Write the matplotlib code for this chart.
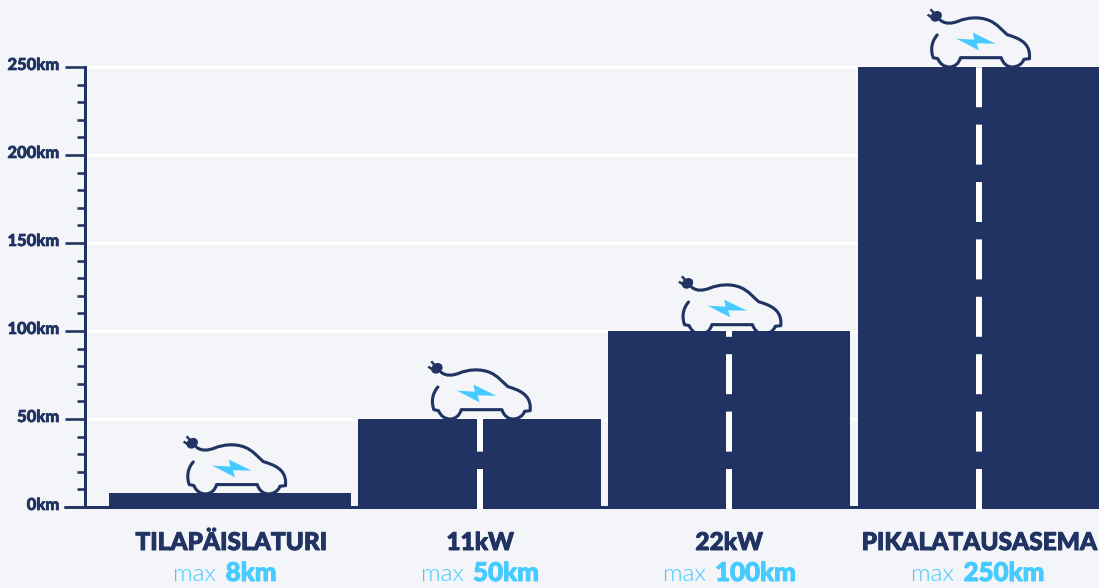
import matplotlib
matplotlib.use("Agg")
import matplotlib.pyplot as plt
import matplotlib.patheffects as pe
from matplotlib.path import Path
from matplotlib.patches import PathPatch, Polygon, Ellipse
from matplotlib.transforms import Affine2D, ScaledTranslation

categories = ["TILAPÄISLATURI", "11kW", "22kW", "PIKALATAUSASEMA"]
values = [8, 50, 100, 250]
sub_values = ["8km", "50km", "100km", "250km"]
major_ticks = [0, 50, 100, 150, 200, 250]
minor_ticks = [10, 20, 30, 40, 60, 70, 80, 90, 110, 120, 130, 140, 160, 170, 180, 190, 210, 220, 230, 240]
tick_labels = ["0km", "50km", "100km", "150km", "200km", "250km"]

NAVY = "#203362"
BLUE = "#45CBFF"
BG = "#F3F5F8"
W, H = 1099, 588
px = 72 / 100
plt.rcParams["lines.scale_dashes"] = False
FONT = "Lato"

fig = plt.figure(figsize=(W / 100, H / 100), dpi=100, facecolor=BG)
ax = fig.add_axes([84.5 / W, (H - 507) / H, (W - 84.5) / W, 440 / H])
ax.set_facecolor(BG)
ax.set_ylim(0, 250)
ax.set_xlim(-0.5825, 3.4813)

for s in ["top", "right"]:
    ax.spines[s].set_visible(False)
for s in ["left", "bottom"]:
    ax.spines[s].set_color(NAVY)
    ax.spines[s].set_linewidth(3 * px)

ax.set_xticks([])
ax.set_yticks(major_ticks)
ax.set_yticklabels(tick_labels, fontfamily=FONT, fontweight="black", fontsize=11.9, color=NAVY)
ax.set_yticks(minor_ticks, minor=True)
ax.tick_params(axis="y", which="major", length=20 * px, width=2.6 * px, color=NAVY, pad=5 * px)
ax.tick_params(axis="y", which="minor", length=8 * px, width=2.6 * px, color=NAVY)
up = ScaledTranslation(0, 3.5 / 100, fig.dpi_scale_trans)
heavy = [pe.withStroke(linewidth=0.5, foreground=NAVY)]
for lab in ax.get_yticklabels():
    lab.set_transform(lab.get_transform() + up)
    lab.set_path_effects(heavy)

for v in major_ticks[1:]:
    ax.axhline(v, color="white", lw=3 * px, zorder=1, clip_on=False)

ax.bar(range(4), [v + 1.1 for v in values], bottom=-1.1, width=0.97, color=NAVY,
       zorder=3, clip_on=False)

# road markings: dashes counted up from the bottom of each bar
for i, v in enumerate(values):
    if v >= 50:
        ln, = ax.plot([i, i], [-1.1, v], color="white", lw=6 * px, zorder=4, clip_on=False,
                      solid_capstyle="butt", dash_capstyle="butt")
        ln.set_dashes((40 * px, 17.4 * px))

# car icon in reference units around the top centre of a bar
BODY_V = [(270, 60), (285, 72), (305, 70), (325, 62), (350, 52), (385, 48), (415, 60),
          (440, 70), (455, 90), (470, 103), (500, 112), (537, 125), (537, 165),
          (537, 175), (520, 177), (515, 192), (500, 200), (485, 200), (470, 200), (458, 190),
          (452, 172), (330, 172), (325, 190), (312, 200), (297, 200), (280, 200), (268, 190),
          (262, 175), (248, 172), (240, 150), (242, 125), (260, 104)]
BODY_C = [Path.MOVETO] + [Path.CURVE4] * 12 + [Path.LINETO, Path.LINETO] + [Path.CURVE4] * 6 + \
         [Path.LINETO] + [Path.CURVE4] * 6 + [Path.LINETO] + [Path.CURVE4] * 3
BOLT = [(317, 115), (385, 150), (379, 129), (435, 130), (367, 97), (371, 118)]
PRONGS = [[(252, 40), (240, 27)], [(245, 52), (231, 43)]]
icon_dx = [5, 0, 1, 0]
icon_dy = [-1, 0, -3, 0]


def icon_transform(i, v):
    x0, y0 = ax.transData.transform((i, v))
    return Affine2D().translate(-385, -200).scale(1 / 3, -1 / 3).translate(x0 + icon_dx[i], y0 + icon_dy[i])


for i, v in enumerate(values):
    t = icon_transform(i, v)
    ax.add_patch(PathPatch(Path(BODY_V, BODY_C), fc="none", ec=NAVY, lw=3.1 * px, transform=t,
                           zorder=2, clip_on=False, capstyle="round", joinstyle="round"))
    ax.add_patch(Polygon(BOLT, closed=True, fc=BLUE, ec="none", transform=t, zorder=2, clip_on=False))
    ax.add_patch(Ellipse((257, 48), 36, 30, angle=-35, fc=NAVY, ec="none", transform=t, zorder=2,
                         clip_on=False))
    for p in PRONGS:
        ax.add_patch(PathPatch(Path(p), fc="none", ec=NAVY, lw=2.4 * px, transform=t, zorder=2,
                               clip_on=False, capstyle="butt"))

# labels under the bars
label_x = [231, 480, 729, 979]
sub_x = [225, 480, 729.5, 978]
renderer = fig.canvas.get_renderer()
for i, name in enumerate(categories):
    fig.text(label_x[i] / W, 1 - 550 / H, name, ha="center", va="baseline", fontfamily=FONT,
             fontweight="black", fontsize=17.6, color=NAVY,
             path_effects=[pe.withStroke(linewidth=0.7, foreground=NAVY)])
    a = fig.text(0, 1 - 581 / H, "max ", ha="left", va="baseline", fontfamily=FONT,
                 fontweight=300, fontsize=17.6, color=BLUE)
    b = fig.text(0, 1 - 581 / H, sub_values[i], ha="left", va="baseline", fontfamily=FONT,
                 fontweight="black", fontsize=18.6, color=BLUE,
                 path_effects=[pe.withStroke(linewidth=0.7, foreground=BLUE)])
    wa = a.get_window_extent(renderer).width + 3
    wb = b.get_window_extent(renderer).width
    left = sub_x[i] - (wa + wb) / 2
    a.set_x(left / W)
    b.set_x((left + wa) / W)

# left part of the base line
fig.add_artist(plt.Line2D([65 / W, 85 / W], [1 - 507 / H] * 2, color=NAVY, lw=2.6 * px))

fig.savefig("out.png", dpi=100, facecolor=BG)
